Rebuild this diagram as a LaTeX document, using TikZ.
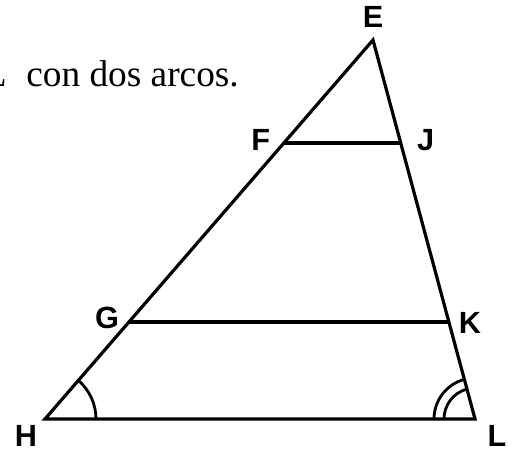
\documentclass[tikz,border=0pt]{standalone}
\usepackage{fontspec}
\setmainfont{Liberation Serif}
\setsansfont{Liberation Sans}
\usetikzlibrary{calc}

\tikzset{
  vlabel/.style={font=\sffamily\bfseries\fontsize{23}{23}\selectfont, inner sep=0pt},
  seg/.style={line width=2.4pt},
  anglearc/.style={line width=2.1pt}
}

\begin{document}
\begin{tikzpicture}[x=0.75pt,y=0.75pt]
\useasboundingbox (0,0) rectangle (515,453);
\clip (0,0) rectangle (515,453);

% vertices of the big triangle
\coordinate (H) at (45,34);
\coordinate (L) at (475,34);
\coordinate (E) at (373,413);

% points on the sides, cut by the two parallels
\coordinate (F) at ($(H)!0.728!(E)$);
\coordinate (G) at ($(H)!0.256!(E)$);
\coordinate (J) at ($(L)!0.728!(E)$);
\coordinate (K) at ($(L)!0.256!(E)$);

% sides and parallels
\draw[seg] (H) -- (E) -- (L) -- cycle;
\draw[seg] (F) -- (J);
\draw[seg] (G) -- (K);

% equal angles: one arc at H, two arcs at L
\draw[anglearc] ($(H)+(0:51)$) arc[start angle=0, end angle=49.1, radius=51];
\foreach \r in {31,41}
  \draw[anglearc] ($(L)+(105.1:\r)$) arc[start angle=105.1, end angle=180, radius=\r];

% vertex names
\node[vlabel] (lE) at ($(E)+(0,23)$) {E};
\node[vlabel] (lF) at ($(F)+(-23,3)$) {F};
\node[vlabel] (lJ) at ($(J)+(25,3)$) {J};
\node[vlabel] (lG) at ($(G)+(-22,4)$) {G};
\node[vlabel] (lK) at ($(K)+(21,-1)$) {K};
\node[vlabel] (lH) at ($(H)+(-19,-17)$) {H};
\node[vlabel] (lL) at ($(L)+(22,-17)$) {L};

% cut-off line of text
\node[anchor=base east, inner sep=0pt, font=\fontsize{28}{28}\selectfont] (tL) at (7,366) {L};
\node[anchor=base west, inner sep=0pt, font=\fontsize{28}{28}\selectfont] (txt) at (26,366) {con dos arcos.};
\end{tikzpicture}
\end{document}
